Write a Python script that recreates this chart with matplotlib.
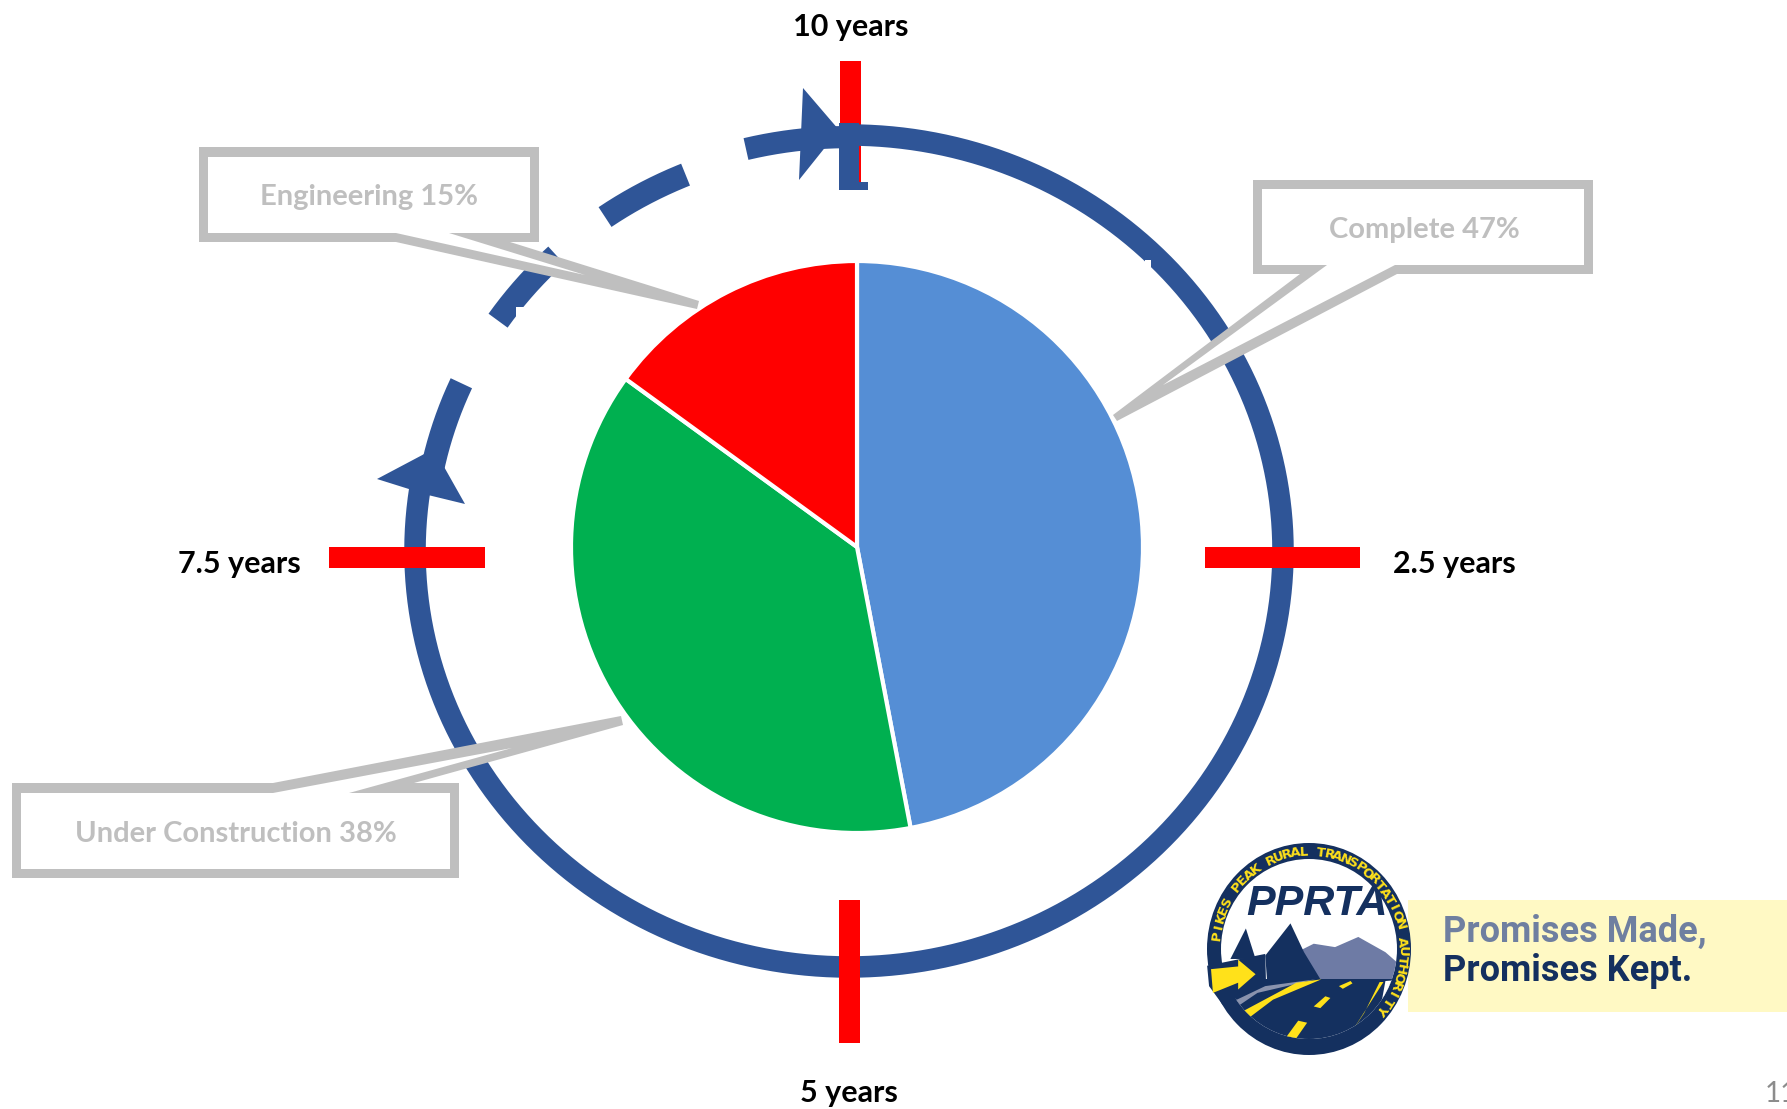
import numpy as np
import matplotlib
matplotlib.use('Agg')
import matplotlib.pyplot as plt
from matplotlib.patches import Polygon, Rectangle, Ellipse

# pie data
labels = ['Complete', 'Under Construction', 'Engineering']
shares = [47, 38, 15]
pie_colors = ['#558ED5', '#00B050', '#FF0000']

# schedule ring, ellipse angles in degrees (clockwise from the top)
ring_solid = [(90, -190)]
ring_dashes = [(170, 155.7), (145.6, 133.5), (125, 112.6), (103.8, 90)]
year_labels = ['10 years', '2.5 years', '5 years', '7.5 years']

RING = '#2F5597'
GREY = '#BFBFBF'
NAVY = '#14305F'
YELLOW = '#FFE11A'

plt.rcParams['font.family'] = ['Lato', 'DejaVu Sans']

fig = plt.figure(figsize=(17.87, 11.09), dpi=100)
ax = fig.add_axes([0, 0, 1, 1])

ax.pie(shares, colors=pie_colors, center=(857, 547), radius=286,
       startangle=-90, counterclock=True, frame=True,
       wedgeprops={'edgecolor': 'white', 'linewidth': 3})
ax.set_xlim(0, 1787)
ax.set_ylim(1109, 0)
ax.axis('off')


def poly(pts, color, z=3):
    p = Polygon(pts, closed=True, facecolor=color, edgecolor='none', zorder=z)
    ax.add_patch(p)
    return p


def rect(x0, y0, x1, y1, color, z=3):
    ax.add_patch(Rectangle((x0, y0), x1 - x0, y1 - y0, facecolor=color, edgecolor='none', zorder=z))


def ring_arc(a, b, scale=1.0, lw=15.5):
    t = np.radians(np.linspace(a, b, 200))
    ax.plot(849 + 434 * scale * np.cos(t), 551 - 416 * scale * np.sin(t), color=RING, lw=lw,
            solid_capstyle='butt', zorder=4)


# red ticks, only the top one goes under the ring
rect(840, 61, 861, 190, '#FF0000')
rect(1205, 547, 1360, 568, '#FF0000', z=5)
rect(329, 547, 485, 568, '#FF0000', z=5)
rect(839, 900, 860, 1043, '#FF0000', z=5)

for a, b in ring_solid:
    ring_arc(a, b)
# the dashes run a little inside the solid part and are thicker
for a, b in ring_dashes[:3]:
    ring_arc(a, b, scale=0.98, lw=17)
ring_arc(ring_dashes[3][0], ring_dashes[3][1], scale=0.995, lw=16)

# blue stub over the top tick and the two arrow heads
poly([(839, 123), (859, 123), (859, 182), (868, 182), (868, 190), (839, 190)], RING, z=5)
poly([(803, 88), (839, 130), (799, 180)], RING, z=5)
poly([(377, 479), (428, 452), (443, 465), (465, 504), (428, 495)], RING, z=5)
rect(516, 307, 528, 320, 'white', z=6)
rect(1145, 260, 1151, 267, 'white', z=6)

# callouts: grey outer shape, white inner shape
callouts = [
    ([(199, 147), (539, 147), (539, 242), (510, 242), (699, 301), (697, 309), (396, 242), (199, 242)],
     [(208, 157), (530, 157), (530, 233), (449, 233), (585, 275), (396, 233), (208, 233)],
     'Engineering 15%', 369, 197),
    ([(1253, 180), (1593, 180), (1593, 274), (1397, 274), (1117, 421), (1113, 415), (1300, 274), (1253, 274)],
     [(1262, 189), (1584, 189), (1584, 265), (1395, 265), (1163, 385), (1327, 265), (1262, 265)],
     'Complete 47%', 1424, 230),
    ([(12, 783), (273, 783), (621, 716), (623, 725), (414, 783), (459, 783), (459, 878), (12, 878)],
     [(21, 793), (273, 793), (512, 748), (349, 793), (450, 793), (450, 869), (21, 869)],
     'Under Construction 38%', 236, 834),
]
for outer, inner, txt, tx, ty in callouts:
    poly(outer, GREY, z=7)
    poly(inner, 'white', z=8)
    ax.text(tx, ty, txt, color=GREY, fontsize=21, fontweight='bold', ha='center', va='center', zorder=9)

# year labels
year_pos = [(851, 27), (1454, 564), (849, 1093), (239, 564)]
for (x, y), txt in zip(year_pos, year_labels):
    ax.text(x, y, txt, color='black', fontsize=22, fontweight='bold', ha='center', va='center')

# logo band
rect(1408, 900, 1787, 1012, '#FFF9C4', z=2)
ax.text(1443, 932, 'Promises Made,', color='#6F7FA0', fontsize=26, fontweight='bold',
        family='Roboto', va='center', ha='left', zorder=3)
ax.text(1443, 971, 'Promises Kept.', color=NAVY, fontsize=26, fontweight='bold',
        family='Roboto', va='center', ha='left', zorder=3)


def lp(pts):
    return [(1180 + x / 2.58, 820 + y / 2.95) for x, y in pts]


cx, cy = 1309, 949
ax.add_patch(Ellipse((cx, cy), 204, 212, facecolor=NAVY, edgecolor='none', zorder=3))
inner = Ellipse((cx, cy), 176, 180, facecolor='white', edgecolor='none', zorder=4)
ax.add_patch(inner)
scene = [
    (lp([(310, 385), (345, 365), (400, 375), (460, 345), (530, 390), (590, 450), (590, 475), (360, 475)]), '#6E7BA5'),
    (lp([(130, 410), (170, 320), (195, 410)]), NAVY),
    (lp([(220, 400), (285, 305), (320, 390), (365, 475), (225, 480)]), NAVY),
    (lp([(60, 470), (630, 470), (630, 720), (60, 720)]), NAVY),
    (lp([(530, 475), (590, 470), (560, 560), (510, 600)]), 'white'),
    (lp([(110, 580), (200, 510), (350, 470), (220, 490), (110, 550)]), '#8A93AE'),
    (lp([(130, 625), (240, 530), (365, 470), (300, 480), (120, 590)]), YELLOW),
    (lp([(440, 630), (525, 478), (515, 478), (475, 570)]), YELLOW),
    (lp([(345, 550), (375, 520), (388, 525), (362, 555)]), YELLOW),
    (lp([(268, 650), (305, 592), (328, 598), (295, 652)]), YELLOW),
    (lp([(410, 490), (440, 475), (445, 482), (420, 498)]), YELLOW),
]
for pts, col in scene:
    p = poly(pts, col, z=5)
    p.set_clip_path(inner)
poly(lp([(70, 430), (220, 395), (222, 485), (110, 545), (75, 490)]), NAVY, z=6)
poly(lp([(80, 440), (150, 432), (150, 412), (195, 455), (150, 500), (150, 480), (85, 510)]), YELLOW, z=7)
ax.text(cx + 8, 904, 'PPRTA', color=NAVY, fontsize=31, fontweight='bold', style='italic',
        family='Liberation Sans', ha='center', va='center', zorder=6)

ring_text = 'PIKES PEAK RURAL TRANSPORTATION AUTHORITY'
angs = np.linspace(172, -38, len(ring_text))
for ch, ang in zip(ring_text, angs):
    r = np.radians(ang)
    ax.text(cx + 93 * np.cos(r), cy - 97 * np.sin(r), ch, color=YELLOW, fontsize=9.5, fontweight='bold',
            family='DejaVu Sans', rotation=ang - 90, ha='center', va='center', zorder=7)

ax.text(1765, 1094, '11', color='#8C8C8C', fontsize=20, ha='left', va='center', clip_on=False)

fig.savefig('out.png', dpi=100)
